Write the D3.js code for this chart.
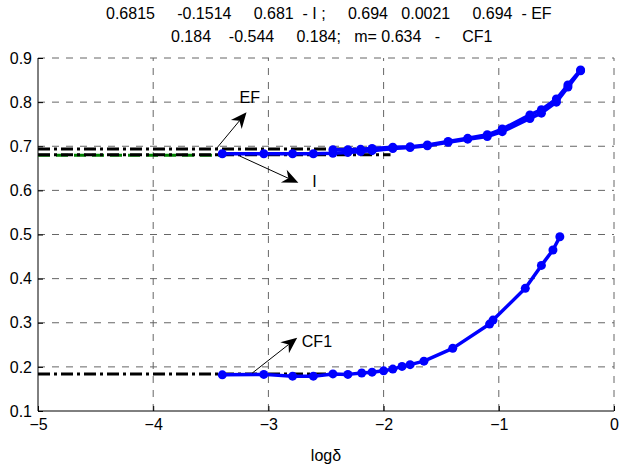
<!DOCTYPE html>
<html>
<head>
<meta charset="utf-8">
<script src="https://cdn.jsdelivr.net/npm/d3@7"></script>
<style>
  body { margin: 0; background: #fff; }
  text { font-family: "Liberation Sans", Arial, sans-serif; }
</style>
</head>
<body>
<div id="chart"></div>
<script>
const width = 619;
const height = 465;
const margin = { top: 58, right: 5, bottom: 54, left: 38 };

// data
const titleLines = [
    "0.6815     -0.1514     0.681  - I ;     0.694   0.0021     0.694  - EF",
    "0.184    -0.544     0.184;   m= 0.634   -     CF1"
];
const titleX = [106, 171];
const xTicks = [-5, -4, -3, -2, -1, 0];
const yTicks = [0.1, 0.2, 0.3, 0.4, 0.5, 0.6, 0.7, 0.8, 0.9];

const xI = [-3.40, -3.04, -2.79, -2.61, -2.44, -2.31, -2.20, -2.10, -1.92, -1.77, -1.62, -1.44, -1.27, -1.10, -0.97, -0.73, -0.63, -0.50, -0.40, -0.29];
const yI = [0.683, 0.683, 0.683, 0.683, 0.684, 0.686, 0.688, 0.690, 0.695, 0.697, 0.701, 0.709, 0.716, 0.722, 0.733, 0.763, 0.775, 0.800, 0.834, 0.871];

const xEF = [-2.44, -2.31, -2.20, -2.10, -1.92, -1.77, -1.62, -1.44, -1.27, -1.10, -0.97, -0.73, -0.63, -0.50, -0.40, -0.29];
const yEF = [0.692, 0.692, 0.693, 0.695, 0.698, 0.699, 0.703, 0.711, 0.718, 0.726, 0.739, 0.771, 0.783, 0.807, 0.839, 0.873];

const xCF1 = [-3.40, -3.04, -2.79, -2.61, -2.44, -2.31, -2.19, -2.10, -2.00, -1.92, -1.84, -1.77, -1.65, -1.40, -1.08, -1.05, -0.77, -0.63, -0.53, -0.47];
const yCF1 = [0.182, 0.183, 0.179, 0.179, 0.184, 0.183, 0.186, 0.188, 0.191, 0.195, 0.201, 0.205, 0.213, 0.242, 0.297, 0.306, 0.378, 0.430, 0.465, 0.495];

// limit lines (black dash-dot) and fitted line (green dashed)
const limitY = [0.694, 0.681, 0.184];
const limitEnd = [-1.94, -1.94, -2.45];
const greenY = [0.6795];
const greenEnd = [-3.40];

// annotations: [x tail, y tail, x tip, y tip], label position
const arrowLabels = ["EF", "I", "CF1"];
const arrowCoords = [
    [-3.46, 0.692, -3.19, 0.777],
    [-3.25, 0.678, -2.74, 0.617],
    [-3.14, 0.186, -2.75, 0.266]
];
const labelPos = [[-3.25, 0.797], [-2.62, 0.608], [-2.71, 0.245]];

const svg = d3.select("#chart")
    .append("svg")
    .attr("width", width)
    .attr("height", height);

const x = d3.scaleLinear().domain([-5, 0]).range([margin.left, width - margin.right]);
const y = d3.scaleLinear().domain([0.1, 0.9]).range([height - margin.bottom, margin.top]);

// GRID
const grid = svg.append("g")
    .attr("stroke", "#666")
    .attr("stroke-width", 1)
    .attr("stroke-dasharray", "7,7");

grid.selectAll(".gx")
    .data(xTicks.slice(1))
    .enter()
    .append("line")
    .attr("x1", d => x(d)).attr("x2", d => x(d))
    .attr("y1", y(0.1)).attr("y2", y(0.9));

grid.selectAll(".gy")
    .data(yTicks.slice(1))
    .enter()
    .append("line")
    .attr("x1", x(-5)).attr("x2", x(0))
    .attr("y1", d => y(d)).attr("y2", d => y(d));

// AXES (left + bottom only, ticks inward)
const xAxis = svg.append("g")
    .attr("transform", `translate(0,${y(0.1)})`)
    .call(d3.axisBottom(x).tickValues(xTicks).tickSize(-5).tickPadding(8).tickFormat(d3.format("d")));

const yAxis = svg.append("g")
    .attr("transform", `translate(${x(-5)},0)`)
    .call(d3.axisLeft(y).tickValues(yTicks).tickSize(-5).tickPadding(6).tickFormat(d3.format(".1f")));

[xAxis, yAxis].forEach(a => {
    a.select(".domain").attr("stroke", "#000").attr("d", null);
    a.selectAll(".tick line").attr("stroke", "#000");
    a.selectAll(".tick text")
        .attr("fill", "#000")
        .style("font-size", "16px");
});
xAxis.append("line")
    .attr("x1", x(-5)).attr("x2", x(0)).attr("stroke", "#000");
yAxis.append("line")
    .attr("y1", y(0.1)).attr("y2", y(0.9)).attr("stroke", "#000");
xAxis.selectAll(".tick text").attr("dy", "0.71em");

// x label
svg.append("text")
    .attr("x", x(-2.5))
    .attr("y", 461)
    .attr("text-anchor", "middle")
    .style("font-size", "16px")
    .text("logδ");

// TITLE
svg.selectAll(".title")
    .data(titleLines)
    .enter()
    .append("text")
    .attr("x", (d, i) => titleX[i])
    .attr("y", (d, i) => 19 + i * 23)
    .style("font-size", "16px")
    .style("white-space", "pre")
    .text(d => d);

// LIMIT LINES
svg.selectAll(".green")
    .data(greenY)
    .enter()
    .append("line")
    .attr("x1", x(-5))
    .attr("x2", (d, i) => x(greenEnd[i]))
    .attr("y1", d => y(d)).attr("y2", d => y(d))
    .attr("stroke", "#008000")
    .attr("stroke-width", 3)
    .attr("stroke-dasharray", "12,6");

svg.selectAll(".limit")
    .data(limitY)
    .enter()
    .append("line")
    .attr("x1", x(-5))
    .attr("x2", (d, i) => x(limitEnd[i]))
    .attr("y1", d => y(d)).attr("y2", d => y(d))
    .attr("stroke", "#000")
    .attr("stroke-width", 3)
    .attr("stroke-dasharray", "12,4,3,4");

// CURVES
const series = [
    { xs: xI, ys: yI },
    { xs: xEF, ys: yEF },
    { xs: xCF1, ys: yCF1 }
];

const line = d3.line().x(d => x(d[0])).y(d => y(d[1]));

series.forEach(s => {
    const pts = s.xs.map((v, i) => [v, s.ys[i]]);
    svg.append("path")
        .datum(pts)
        .attr("d", line)
        .attr("fill", "none")
        .attr("stroke", "#0000ff")
        .attr("stroke-width", 3.5)
        .attr("stroke-linejoin", "round");
    svg.append("g")
        .selectAll("circle")
        .data(pts)
        .enter()
        .append("circle")
        .attr("cx", d => x(d[0]))
        .attr("cy", d => y(d[1]))
        .attr("r", 4.5)
        .attr("fill", "#0000ff");
});

// ARROWS
arrowCoords.forEach((c, i) => {
    const x1 = x(c[0]), y1 = y(c[1]), x2 = x(c[2]), y2 = y(c[3]);
    const ang = Math.atan2(y2 - y1, x2 - x1);
    const L = 16, W = 7, back = 11;
    const ux = Math.cos(ang), uy = Math.sin(ang);
    const px = -uy, py = ux;
    const bx = x2 - ux * L, by = y2 - uy * L;
    const nx = x2 - ux * back, ny = y2 - uy * back;

    svg.append("line")
        .attr("x1", x1).attr("y1", y1)
        .attr("x2", nx).attr("y2", ny)
        .attr("stroke", "#000")
        .attr("stroke-width", 1);

    svg.append("path")
        .attr("d", `M${x2},${y2} L${bx + px * W},${by + py * W} L${nx},${ny} L${bx - px * W},${by - py * W} Z`)
        .attr("fill", "#000");

    svg.append("text")
        .attr("x", x(labelPos[i][0]))
        .attr("y", y(labelPos[i][1]))
        .style("font-size", "16px")
        .text(arrowLabels[i]);
});
</script>
</body>
</html>
